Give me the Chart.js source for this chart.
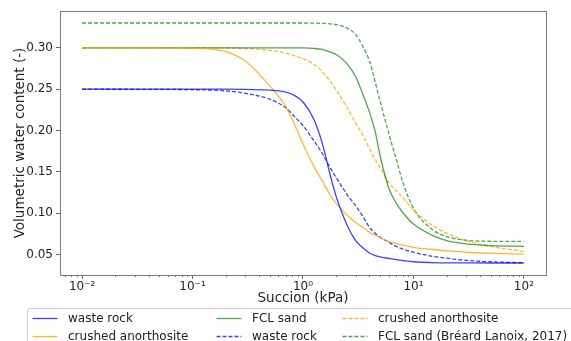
<!DOCTYPE html>
<html>
<head>
<meta charset="utf-8">
<script src="https://cdn.jsdelivr.net/npm/chart.js@4/dist/chart.umd.min.js"></script>
<style>
  html, body { margin: 0; padding: 0; background: #fff; overflow: hidden; }
  #wrap { position: relative; width: 571px; height: 341px; overflow: hidden; }
  #c { position: absolute; left: 0; top: 0; }
  #legend { position: absolute; left: 27px; top: 308px; width: 580px; height: 44px;
    border: 1px solid #cccccc; border-radius: 3px; background: rgba(255,255,255,0.8);
    font-family: "DejaVu Sans", sans-serif; font-size: 12px; color: #222; }
  .item { position: absolute; white-space: nowrap; height: 16px; line-height: 16px; }
  .item svg { position: absolute; left: 0; top: 0; }
  .item span { position: absolute; top: 0; }
</style>
</head>
<body>
<div id="wrap">
  <canvas id="c" width="571" height="341"></canvas>
  <div id="legend"></div>
</div>
<script>
// ---- data ----
const suctionKPa = [0.01, 0.03, 0.1, 0.2, 0.3, 0.5, 0.7, 0.85, 1, 1.25, 1.5, 1.75, 2, 2.5, 3, 3.5, 4, 4.5, 5, 6, 7, 8, 10, 15, 20, 30, 50, 100];

const wasteRock = [0.250, 0.250, 0.250, 0.250, 0.2499, 0.2488, 0.2465, 0.242, 0.2345, 0.214, 0.184, 0.148, 0.120, 0.086, 0.067, 0.058, 0.052, 0.049, 0.0475, 0.0455, 0.044, 0.043, 0.0415, 0.0405, 0.0402, 0.0401, 0.0400, 0.0400];
const anorthosite = [0.300, 0.2999, 0.2995, 0.2955, 0.284, 0.254, 0.229, 0.2055, 0.184, 0.157, 0.139, 0.123, 0.112, 0.098, 0.089, 0.083, 0.077, 0.0735, 0.0705, 0.066, 0.0635, 0.0615, 0.059, 0.0563, 0.0548, 0.053, 0.0518, 0.0508];
const fclSand = [0.300, 0.300, 0.300, 0.300, 0.300, 0.300, 0.300, 0.300, 0.2999, 0.2993, 0.298, 0.295, 0.292, 0.281, 0.265, 0.243, 0.222, 0.199, 0.169, 0.130, 0.112, 0.101, 0.087, 0.073, 0.067, 0.063, 0.061, 0.060];
const wasteRockDashed = [0.250, 0.2499, 0.2494, 0.248, 0.245, 0.238, 0.2275, 0.216, 0.206, 0.188, 0.172, 0.156, 0.143, 0.123, 0.109, 0.096, 0.083, 0.076, 0.071, 0.065, 0.060, 0.057, 0.053, 0.048, 0.0458, 0.0432, 0.0415, 0.0403];
const anorthositeDashed = [0.300, 0.300, 0.300, 0.2998, 0.2992, 0.297, 0.2935, 0.290, 0.287, 0.280, 0.271, 0.260, 0.249, 0.228, 0.209, 0.194, 0.178, 0.165, 0.155, 0.137, 0.127, 0.119, 0.104, 0.085, 0.076, 0.067, 0.060, 0.054];
const fclSandBL = [0.330, 0.330, 0.330, 0.330, 0.330, 0.330, 0.330, 0.330, 0.330, 0.3298, 0.3295, 0.329, 0.328, 0.324, 0.316, 0.301, 0.284, 0.259, 0.235, 0.196, 0.165, 0.138, 0.106, 0.080, 0.072, 0.0675, 0.0663, 0.066];

const seriesLabels = ["waste rock", "crushed anorthosite", "FCL sand", "waste rock", "crushed anorthosite", "FCL sand (Bréard Lanoix, 2017)"];

const xMajorTicks = [0.01, 0.1, 1, 10, 100];
const xTickLabels = ["10\u207B\u00B2", "10\u207B\u00B9", "10\u2070", "10\u00B9", "10\u00B2"];
const yTickValues = [0.05, 0.10, 0.15, 0.20, 0.25, 0.30];
const xMin = 0.00631, xMax = 158.5, yMin = 0.0255, yMax = 0.3445;

// ---- build chart ----
const pts = arr => suctionKPa.map((x, i) => ({ x: x, y: arr[i] }));
const BLUE = 'rgba(0,0,255,0.75)', ORANGE = 'rgba(255,165,0,0.8)', GREEN = 'rgba(0,128,0,0.7)';
const DASH = [4, 2];
const defs = [
  { data: wasteRock, color: BLUE, dash: [] },
  { data: anorthosite, color: ORANGE, dash: [] },
  { data: fclSand, color: GREEN, dash: [] },
  { data: wasteRockDashed, color: BLUE, dash: DASH },
  { data: anorthositeDashed, color: ORANGE, dash: DASH },
  { data: fclSandBL, color: GREEN, dash: DASH }
];
const datasets = defs.map((d, i) => ({
  label: seriesLabels[i],
  data: pts(d.data),
  borderColor: d.color,
  backgroundColor: d.color,
  borderDash: d.dash,
  borderWidth: 1.3,
  pointRadius: 0,
  fill: false,
  cubicInterpolationMode: 'monotone'
}));

const minorTicks = [];
for (let p = -3; p <= 2; p++) {
  for (let m = 2; m <= 9; m++) {
    const v = m * Math.pow(10, p);
    if (v > xMin && v < xMax) minorTicks.push(+v.toPrecision(3));
  }
}

const TXT = '#262626', SPINE = '#7a7a7a';
const frame = {
  id: 'frame',
  afterDraw(chart) {
    const { ctx, chartArea: a, scales } = chart;
    ctx.save();
    ctx.strokeStyle = '#444';
    ctx.lineWidth = 0.8;
    minorTicks.forEach(v => {
      const px = Math.round(scales.x.getPixelForValue(v)) + 0.5;
      ctx.beginPath(); ctx.moveTo(px, a.bottom); ctx.lineTo(px, a.bottom + 2); ctx.stroke();
    });
    ctx.strokeStyle = SPINE;
    ctx.lineWidth = 1;
    ctx.strokeRect(Math.round(a.left) + 0.5, Math.round(a.top) + 0.5, Math.round(a.right - a.left), Math.round(a.bottom - a.top));
    ctx.restore();
  }
};

Chart.defaults.font.family = '"DejaVu Sans", sans-serif';
Chart.defaults.color = TXT;

const chart = new Chart(document.getElementById('c'), {
  type: 'line',
  data: { datasets },
  options: {
    responsive: false,
    animation: false,
    layout: { padding: { top: 11, right: 25, left: 0, bottom: 0 } },
    plugins: { legend: { display: false }, tooltip: { enabled: false } },
    scales: {
      x: {
        type: 'logarithmic',
        min: xMin, max: xMax,
        afterBuildTicks: s => { s.ticks = xMajorTicks.map(v => ({ value: v, major: true })); },
        afterFit: s => { s.height = 66; },
        ticks: {
          autoSkip: false, maxRotation: 0, padding: 1,
          font: { size: 12 }, color: TXT,
          callback: (v) => { const i = xMajorTicks.indexOf(v); return i >= 0 ? xTickLabels[i] : ''; }
        },
        grid: { display: true, drawOnChartArea: false, drawTicks: true, tickLength: 4, tickColor: '#444', tickWidth: 0.8 },
        border: { display: false },
        title: { display: true, text: 'Succion (kPa)', font: { size: 13.5 }, color: TXT, padding: { top: 0, bottom: 34 } }
      },
      y: {
        type: 'linear',
        min: yMin, max: yMax,
        afterBuildTicks: s => { s.ticks = yTickValues.map(v => ({ value: v })); },
        afterFit: s => { s.width = 60; },
        ticks: { padding: 3, font: { size: 12 }, color: TXT, callback: v => Number(v).toFixed(2) },
        grid: { display: true, drawOnChartArea: false, drawTicks: true, tickLength: 4, tickColor: '#444', tickWidth: 0.8 },
        border: { display: false },
        title: { display: true, text: 'Volumetric water content (-)', font: { size: 13.5 }, color: TXT, padding: { top: 12, bottom: 0 } }
      }
    }
  },
  plugins: [frame]
});

// ---- HTML legend (matplotlib-style, 3 columns filled column-wise) ----
const legend = document.getElementById('legend');
const colX = [4, 188, 314];
const rowY = [1, 19];
chart.data.datasets.forEach((ds, i) => {
  const col = Math.floor(i / 2), row = i % 2;
  const item = document.createElement('div');
  item.className = 'item';
  item.style.left = colX[col] + 'px';
  item.style.top = rowY[row] + 'px';
  const dash = ds.borderDash && ds.borderDash.length ? ` stroke-dasharray="${ds.borderDash.join(' ')}"` : '';
  item.innerHTML = `<svg width="26" height="16"><line x1="0.5" y1="8.5" x2="25.5" y2="8.5" stroke="${ds.borderColor}" stroke-width="1.3"${dash}/></svg><span style="left:36px"></span>`;
  item.querySelector('span').textContent = ds.label;
  legend.appendChild(item);
});
</script>
</body>
</html>
